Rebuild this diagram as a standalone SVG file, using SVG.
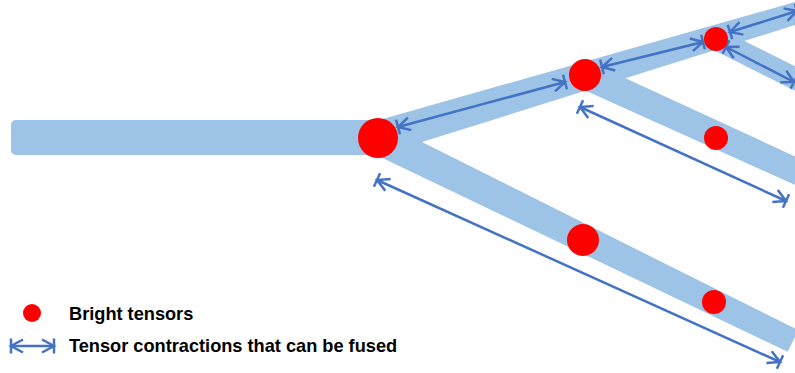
<svg xmlns="http://www.w3.org/2000/svg" width="795" height="373" viewBox="0 0 795 373">
<style>
.band{fill:#9DC3E6;stroke:none}
.node{fill:#FF0000;stroke:none}
.arr{fill:none;stroke:#4472C4;stroke-width:2.5;marker-start:url(#tip);marker-end:url(#tip)}
.lbl{font-family:"Liberation Sans",Arial,sans-serif;font-weight:bold;font-size:18.2px;fill:#000}
</style>
<defs>
<marker id="tip" markerUnits="userSpaceOnUse" orient="auto-start-reverse" refX="0" refY="0" markerWidth="30" markerHeight="30" overflow="visible">
<path d="M-12,-6.5 L0,0 L-12,6.5 M0,-7.5 L0,7.5" fill="none" stroke="#4472C4" stroke-width="2.5"/>
</marker>
</defs>
<g id="bands">
<rect id="trunk" class="band" x="11" y="120" width="372" height="35" rx="5"/>
<polygon id="upper" class="band" points="373.1,121.7 796.9,1.5 803.1,22.5 382.9,154.3"/>
<polygon id="lower" class="band" points="385.0,123.6 798.3,330.2 787.7,351.8 371.0,152.4"/>
<polygon id="branch2" class="band" points="590.8,62.3 805.4,161.2 794.6,184.8 579.2,87.7"/>
<polygon id="branch3" class="band" points="720.9,29.2 804.9,71.2 795.1,90.8 711.1,48.8"/>
</g>
<g id="connectors">
<line class="arr" x1="398" y1="127" x2="565" y2="82"/>
<line class="arr" x1="602" y1="67" x2="703" y2="42"/>
<line class="arr" x1="730" y1="32" x2="797" y2="11"/>
<line class="arr" x1="726" y1="47" x2="794" y2="82"/>
<line class="arr" x1="580" y1="107" x2="786" y2="201"/>
<line class="arr" x1="377" y1="180" x2="780" y2="362"/>
</g>
<g id="n1"><circle class="node" cx="378" cy="138" r="20"/></g>
<g id="n2"><circle class="node" cx="585" cy="75" r="16"/></g>
<g id="n3"><circle class="node" cx="716" cy="39" r="12"/></g>
<g id="n4"><circle class="node" cx="716" cy="138" r="12"/></g>
<g id="n5"><circle class="node" cx="583" cy="240" r="16"/></g>
<g id="n6"><circle class="node" cx="714" cy="302" r="12"/></g>
<g id="legend">
<circle class="node" cx="32" cy="313" r="9"/>
<text class="lbl" x="69" y="320">Bright tensors</text>
<line class="arr" x1="11" y1="346" x2="54" y2="346"/>
<text class="lbl" x="69" y="352">Tensor contractions that can be fused</text>
</g>
</svg>
